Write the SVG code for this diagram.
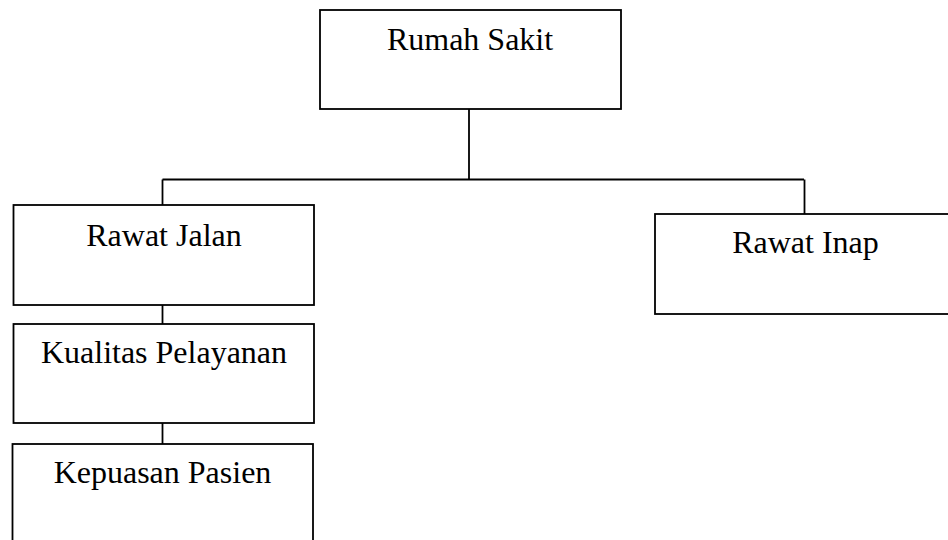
<svg xmlns="http://www.w3.org/2000/svg" width="948" height="540" viewBox="0 0 948 540">
<style>
.box{fill:#fff;stroke:#000;stroke-width:1.8}
.lbl{font-family:"Liberation Serif","Times New Roman",serif;font-size:32px;fill:#000;text-anchor:middle}
.con{fill:none;stroke:#000;stroke-width:1.8}
</style>
<rect width="948" height="540" fill="#fff"/>
<g id="connectors">
<path class="con" d="M469,109 V179.5"/>
<path class="con" d="M162.5,179.5 H804"/>
<path class="con" d="M162.5,179.5 V205"/>
<path class="con" d="M804.5,179.5 V214"/>
<path class="con" d="M162.5,305 V324"/>
<path class="con" d="M162.5,423 V444"/>
</g>
<g id="rumah-sakit">
<rect class="box" x="320" y="10" width="301" height="99"/>
<text class="lbl" x="470" y="50">Rumah Sakit</text>
</g>
<g id="rawat-jalan">
<rect class="box" x="13.5" y="205" width="300.5" height="100"/>
<text class="lbl" x="164" y="246">Rawat Jalan</text>
</g>
<g id="rawat-inap">
<rect class="box" x="655" y="214" width="300" height="100"/>
<text class="lbl" x="805.5" y="253">Rawat Inap</text>
</g>
<g id="kualitas-pelayanan">
<rect class="box" x="13.5" y="324" width="300.5" height="99"/>
<text class="lbl" x="164" y="363">Kualitas Pelayanan</text>
</g>
<g id="kepuasan-pasien">
<rect class="box" x="12.5" y="444" width="300.5" height="110"/>
<text class="lbl" x="162.5" y="483">Kepuasan Pasien</text>
</g>
</svg>
